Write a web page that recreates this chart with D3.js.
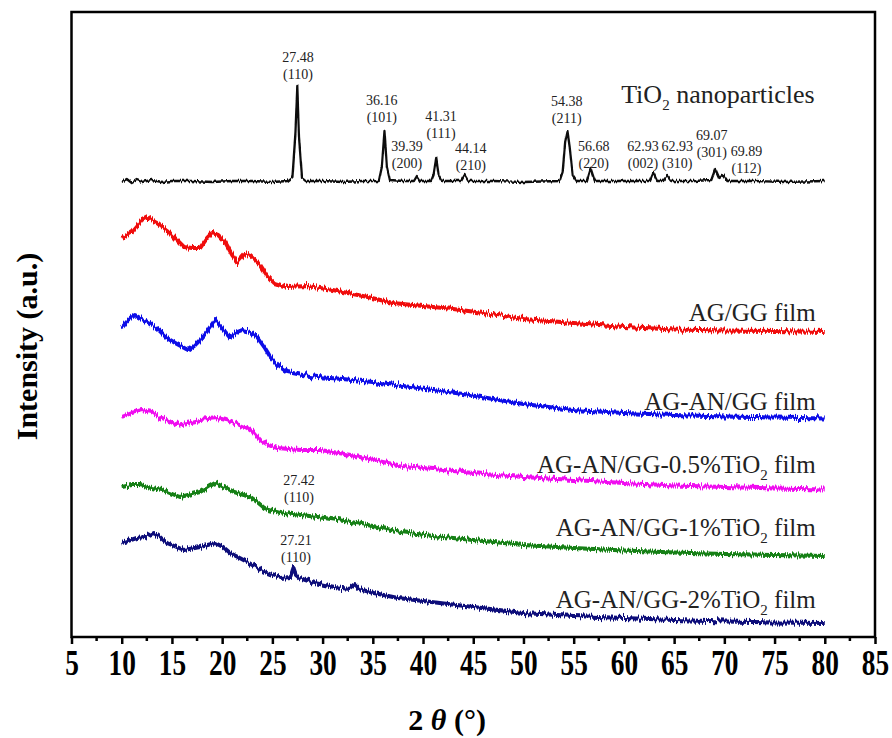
<!DOCTYPE html>
<html>
<head>
<meta charset="utf-8">
<script src="https://cdn.jsdelivr.net/npm/d3@7"></script>
<style>
  body { margin: 0; background: #fff; }
  text { font-family: "Liberation Serif", "Times New Roman", serif; }
</style>
</head>
<body>
<div id="chart"></div>
<script>
// XRD patterns, 2theta (deg) vs intensity (a.u., offset stacked)
const tio2 = [
  [10, 455], [10.5, 458], [11, 454], [11.5, 457], [12, 455], [13, 457], [14, 455], [15, 456], [17, 456],
  [19, 455], [21, 456], [23, 456], [25, 455], [26.5, 456], [27.0, 460], [27.3, 505], [27.48, 551],
  [27.65, 500], [27.95, 459], [28.3, 456], [30, 456], [32, 455], [34, 456], [35.6, 456], [35.9, 470],
  [36.16, 506], [36.4, 470], [36.7, 457], [38, 456], [39.1, 456], [39.39, 461], [39.7, 456], [40.8, 456],
  [41.05, 462], [41.31, 479], [41.55, 462], [41.9, 456], [43.8, 456], [44.14, 462], [44.5, 456],
  [47, 456], [50, 455], [53.6, 456], [53.9, 465], [54.15, 495], [54.38, 506], [54.6, 490], [54.9, 462],
  [55.3, 456], [56.3, 456], [56.68, 469], [57.1, 456], [59, 456], [62.6, 456], [62.93, 464], [63.3, 456],
  [63.9, 456], [64.3, 461], [64.7, 456], [67, 456], [68.7, 457], [69.1, 468], [69.5, 459], [69.9, 462],
  [70.3, 456], [73, 456], [76, 455], [80, 456]
];
const agGG = [
  [10, 399], [11, 405], [12, 417], [12.6, 420], [13.5, 415], [14.5, 407], [15.5, 397], [16.2, 390],
  [17, 389], [17.8, 389], [18.5, 399], [19, 404], [19.6, 402], [20.3, 395], [21, 382], [21.5, 375],
  [22.2, 383], [22.8, 381], [23.8, 372], [24.5, 361], [25.2, 354], [26.5, 350], [28.5, 351], [31, 347],
  [34.5, 340], [37, 334], [40, 331], [43, 328], [46, 324], [50, 318], [55, 314], [60, 310],
  [65, 307.5], [70, 306.5], [75, 306], [80, 305]
];
const agAnGG = [
  [10, 309], [10.5, 315], [11.3, 322], [12, 318], [12.8, 314], [13.7, 307], [14.5, 299], [15.5, 293],
  [16.6, 287], [17.2, 291], [17.8, 297], [18.6, 307], [19.3, 317], [20, 309], [20.8, 299], [21.5, 305],
  [22, 307], [22.8, 305], [23.5, 300], [24.2, 290], [24.8, 280], [25.6, 271], [26.5, 265], [28, 262],
  [29.5, 260], [32, 258], [35, 255], [38, 251], [41, 247], [44, 243], [47, 238], [50, 233], [55, 227],
  [60, 224], [65, 222], [70, 220.5], [75, 219.5], [80, 218.5]
];
const tio2Half = [
  [10, 220], [11, 224], [12, 227], [13, 225], [13.8, 220], [14.7, 216], [15.5, 212], [16.5, 214],
  [17.8, 217], [19.5, 219], [20.4, 217], [21.2, 214], [22.5, 209], [23.2, 204], [23.8, 197], [24.6, 192],
  [25.5, 189], [27.8, 187], [29.8, 187], [32.8, 182], [36, 175], [38, 171], [42, 167], [46, 163],
  [50, 160], [55, 157], [60, 154], [65, 151.5], [70, 150], [75, 148.5], [80, 147.5]
];
const tio2One = [
  [10, 150], [11, 152], [11.8, 152], [13, 149], [14, 147], [15.8, 140], [17, 143], [17.8, 145],
  [18.6, 150], [19.3, 154], [20.2, 150], [21.2, 145], [22.8, 140], [23.5, 135], [24.2, 129], [26.2, 124],
  [29.5, 120], [32.8, 115], [35, 111], [37.8, 105], [41, 101], [45, 97], [50, 92], [55, 89],
  [60, 86.5], [65, 84.5], [70, 83], [75, 82], [80, 81]
];
const tio2Two = [
  [10, 94], [11.5, 99], [12.3, 100], [13.2, 104], [13.8, 100], [14.5, 94], [16.2, 87], [17.8, 90],
  [19.3, 94], [20.1, 90], [20.8, 84], [22.5, 75], [24.2, 65], [25.8, 59], [26.8, 60], [27.1, 69],
  [27.35, 62], [27.7, 59], [29.2, 54], [31.2, 50], [32.7, 48], [33.2, 52], [33.6, 48], [35.1, 44],
  [37.5, 39], [40, 36], [45, 30], [50, 24], [55, 21], [60, 19], [65, 17], [70, 15.5], [75, 14.5], [80, 14]
];

const seriesNames = ["TiO2 nanoparticles", "AG/GG film", "AG-AN/GG film",
  "AG-AN/GG-0.5%TiO2 film", "AG-AN/GG-1%TiO2 film", "AG-AN/GG-2%TiO2 film"];
const seriesColors = ["#111111", "#f01010", "#1010e8", "#f010f0", "#138013", "#10107a"];

// label text pieces: [before subscript, subscript, after]
const seriesLabelParts = [
  ["TiO", "2", " nanoparticles"], ["AG/GG film", "", ""], ["AG-AN/GG film", "", ""],
  ["AG-AN/GG-0.5%TiO", "2", " film"], ["AG-AN/GG-1%TiO", "2", " film"], ["AG-AN/GG-2%TiO", "2", " film"]
];
const seriesLabelPos = [[79.0, 534], [79.1, 316], [79.1, 227], [79.1, 164], [79.1, 101], [79.1, 29]];

// peak annotations: position (2theta, intensity of first baseline), value, hkl
const peakLabels = [
  [27.55, 575, "27.48", "(110)"], [35.9, 532, "36.16", "(101)"], [38.4, 486, "39.39", "(200)"],
  [41.8, 516, "41.31", "(111)"], [44.76, 484, "44.14", "(210)"], [54.3, 531, "54.38", "(211)"],
  [57.0, 486, "56.68", "(220)"], [61.9, 486, "62.93", "(002)"], [65.3, 486, "62.93", "(310)"],
  [68.75, 497, "69.07", "(301)"], [72.2, 481, "69.89", "(112)"],
  [27.65, 152, "27.42", "(110)"], [27.35, 92, "27.21", "(110)"]
];

const majorTicks = [5, 10, 15, 20, 25, 30, 35, 40, 45, 50, 55, 60, 65, 70, 75, 80, 85];
const minorTicks = [7.5, 12.5, 17.5, 22.5, 27.5, 32.5, 37.5, 42.5, 47.5, 52.5, 57.5, 62.5, 67.5,
  72.5, 77.5, 82.5];

const width = 892, height = 738;
const plot = { left: 71.5, right: 875, top: 12, bottom: 637 };

const svg = d3.select("#chart")
  .append("svg")
  .attr("width", width)
  .attr("height", height);

const x = d3.scaleLinear().domain([5, 85]).range([plot.left, plot.right]);
const y = d3.scaleLinear().domain([0, 625]).range([plot.bottom, plot.top]);

// noise filter to mimic the jagged raw scans (vertical jitter only)
const defs = svg.append("defs");
function noiseFilter(id, scale, seed) {
  const f = defs.append("filter").attr("id", id)
    .attr("filterUnits", "userSpaceOnUse")
    .attr("x", 0).attr("y", 0).attr("width", width).attr("height", height);
  f.append("feTurbulence").attr("type", "fractalNoise")
    .attr("baseFrequency", "0.8 0.02").attr("numOctaves", 2).attr("seed", seed).attr("result", "n");
  f.append("feColorMatrix").attr("in", "n").attr("type", "matrix")
    .attr("values", "0 0 0 0 0.5  0 1 0 0 0  0 0 1 0 0  0 0 0 0 1").attr("result", "m");
  f.append("feDisplacementMap").attr("in", "SourceGraphic").attr("in2", "m")
    .attr("scale", scale).attr("xChannelSelector", "R").attr("yChannelSelector", "G");
}
noiseFilter("noiseFilm", 8, 3);
noiseFilter("noiseXrd", 4.5, 7);

const line = d3.line().x(d => x(d[0])).y(d => y(d[1]));

const allSeries = [tio2, agGG, agAnGG, tio2Half, tio2One, tio2Two];

svg.append("g")
  .selectAll("path")
  .data(allSeries)
  .join("path")
  .attr("d", line)
  .attr("fill", "none")
  .attr("stroke", (d, i) => seriesColors[i])
  .attr("stroke-width", (d, i) => i === 0 ? 2.3 : 4)
  .attr("stroke-linejoin", "round")
  .attr("filter", (d, i) => i === 0 ? "url(#noiseXrd)" : "url(#noiseFilm)");

// frame
svg.append("rect")
  .attr("x", plot.left).attr("y", plot.top)
  .attr("width", plot.right - plot.left).attr("height", plot.bottom - plot.top)
  .attr("fill", "none").attr("stroke", "#000").attr("stroke-width", 2.5);

// bottom axis
const xAxis = svg.append("g")
  .attr("transform", `translate(0,${plot.bottom})`)
  .call(d3.axisBottom(x).tickValues(majorTicks).tickSize(7).tickPadding(5).tickFormat(d3.format("d")));
xAxis.select(".domain").remove();
xAxis.selectAll(".tick line").attr("stroke", "#000").attr("stroke-width", 2.5);
xAxis.selectAll(".tick text")
  .attr("fill", "#000")
  .attr("transform", "scale(0.76,1)")
  .style("font-family", "'Liberation Serif', serif")
  .style("font-size", "36px")
  .style("font-weight", "bold");

svg.append("g")
  .attr("transform", `translate(0,${plot.bottom})`)
  .selectAll("line")
  .data(minorTicks)
  .join("line")
  .attr("x1", d => x(d)).attr("x2", d => x(d))
  .attr("y1", 0).attr("y2", 4)
  .attr("stroke", "#000").attr("stroke-width", 2.5);

// axis titles
const xTitle = svg.append("text")
  .attr("x", x(42.4)).attr("y", 730)
  .attr("text-anchor", "middle")
  .style("font-size", "30px").style("font-weight", "bold");
xTitle.append("tspan").text("2 ");
xTitle.append("tspan").attr("font-style", "italic").text("θ");
xTitle.append("tspan").text(" (°)");

svg.append("text")
  .attr("transform", `translate(37,${(plot.top + plot.bottom) / 2 + 22}) rotate(-90)`)
  .attr("text-anchor", "middle")
  .style("font-size", "30px").style("font-weight", "bold")
  .text("Intensity (a.u.)");

// series labels
seriesLabelParts.forEach((parts, i) => {
  const t = svg.append("text")
    .attr("x", x(seriesLabelPos[i][0])).attr("y", y(seriesLabelPos[i][1]))
    .attr("text-anchor", "end")
    .attr("fill", "#222")
    .style("font-size", i === 0 ? "26px" : "25px");
  t.append("tspan").text(parts[0]);
  if (parts[1]) {
    t.append("tspan").attr("dy", 7).style("font-size", "15px").text(parts[1]);
    t.append("tspan").attr("dy", -7).text(parts[2]);
  }
});

// peak annotations
const peaks = svg.append("g")
  .selectAll("text")
  .data(peakLabels)
  .join("text")
  .attr("x", d => x(d[0]))
  .attr("y", d => y(d[1]))
  .attr("text-anchor", "middle")
  .attr("fill", "#222")
  .style("font-size", "14px");
peaks.append("tspan").text(d => d[2]);
peaks.append("tspan").attr("x", d => x(d[0])).attr("dy", 17).text(d => d[3]);
</script>
</body>
</html>
